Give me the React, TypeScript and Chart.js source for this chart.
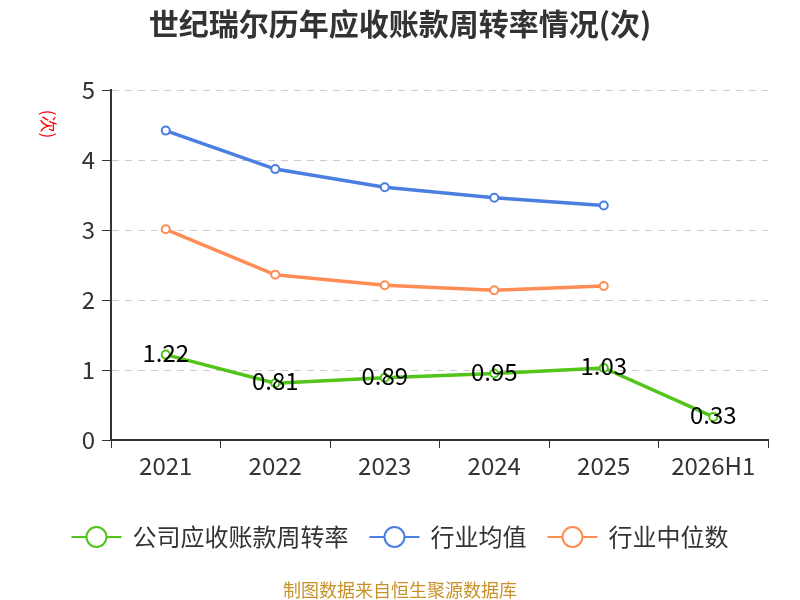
import React, { useEffect, useRef } from 'react'
import { Chart, registerables } from 'chart.js'

Chart.register(...registerables)

const FONT = '"Noto Sans CJK SC", "Noto Sans", sans-serif'

const TITLE = '世纪瑞尔历年应收账款周转率情况(次)'
const UNIT = '(次)'
const SOURCE = '制图数据来自恒生聚源数据库'

const CATEGORIES = ['2021', '2022', '2023', '2024', '2025', '2026H1']
const COMPANY = [1.22, 0.81, 0.89, 0.95, 1.03, 0.33]
const INDUSTRY_AVG = [4.42, 3.87, 3.61, 3.46, 3.35, null]
const INDUSTRY_MEDIAN = [3.01, 2.36, 2.21, 2.14, 2.2, null]
const Y_TICKS = [0, 1, 2, 3, 4, 5]

const SERIES_NAMES = ['公司应收账款周转率', '行业均值', '行业中位数']
const COLORS = ['#52c41a', '#4a7fe1', '#ff8c55']

const PAD_LEFT = 20

// title, unit label, legend, source note and value labels
const decorPlugin = {
  id: 'decor',
  afterDatasetsDraw(chart: Chart) {
    const { ctx } = chart
    const meta = chart.getDatasetMeta(0)
    ctx.save()
    ctx.font = `24px ${FONT}`
    ctx.fillStyle = '#000'
    ctx.textAlign = 'center'
    ctx.textBaseline = 'middle'
    meta.data.forEach((pt, i) => {
      const v = COMPANY[i]
      if (v == null) return
      ctx.fillText(v.toFixed(2), pt.x, pt.y - 2)
    })
    ctx.restore()
  },
  afterDraw(chart: Chart) {
    const { ctx } = chart
    const w = chart.width
    ctx.save()

    ctx.fillStyle = '#333'
    ctx.font = `bold 30px ${FONT}`
    ctx.textAlign = 'center'
    ctx.textBaseline = 'middle'
    ctx.fillText(TITLE, w / 2, 24)

    ctx.save()
    ctx.translate(48, 124)
    ctx.rotate(Math.PI / 2)
    ctx.fillStyle = '#f00'
    ctx.font = `17px ${FONT}`
    ctx.fillText(UNIT, 0, 0)
    ctx.restore()

    // legend
    ctx.font = `24px ${FONT}`
    const symW = 50
    const gapText = 11
    const gapItem = 21
    const widths = SERIES_NAMES.map((n) => ctx.measureText(n).width)
    const total = widths.reduce((a, b) => a + b, 0) + SERIES_NAMES.length * (symW + gapText) + gapItem * (SERIES_NAMES.length - 1)
    let x = (w - total) / 2
    const ly = 537
    SERIES_NAMES.forEach((name, i) => {
      ctx.strokeStyle = COLORS[i]
      ctx.lineWidth = 2
      ctx.beginPath()
      ctx.moveTo(x, ly)
      ctx.lineTo(x + symW, ly)
      ctx.stroke()
      ctx.beginPath()
      ctx.arc(x + symW / 2, ly, 10, 0, Math.PI * 2)
      ctx.fillStyle = '#fff'
      ctx.fill()
      ctx.stroke()
      ctx.fillStyle = '#333'
      ctx.textAlign = 'left'
      ctx.fillText(name, x + symW + gapText, ly)
      x += symW + gapText + widths[i] + gapItem
    })

    ctx.fillStyle = '#c8922a'
    ctx.font = `18px ${FONT}`
    ctx.textAlign = 'center'
    ctx.fillText(SOURCE, w / 2, 590)
    ctx.restore()
  },
}

function lineSet(label: string, data: (number | null)[], color: string) {
  return {
    label,
    data,
    borderColor: color,
    backgroundColor: color,
    borderWidth: 3.5,
    pointRadius: 4,
    pointHoverRadius: 4,
    pointBorderWidth: 2,
    pointBackgroundColor: '#fff',
    pointBorderColor: color,
    tension: 0,
  }
}

export default function App() {
  const canvasRef = useRef<HTMLCanvasElement>(null)

  useEffect(() => {
    if (!canvasRef.current) return
    const chart = new Chart(canvasRef.current, {
      type: 'line',
      data: {
        labels: CATEGORIES,
        datasets: [
          lineSet(SERIES_NAMES[0], COMPANY, COLORS[0]),
          lineSet(SERIES_NAMES[1], INDUSTRY_AVG, COLORS[1]),
          lineSet(SERIES_NAMES[2], INDUSTRY_MEDIAN, COLORS[2]),
        ],
      },
      options: {
        responsive: false,
        animation: false,
        layout: { padding: { top: 90, left: PAD_LEFT, right: 32, bottom: 100 } },
        plugins: {
          legend: { display: false },
          title: { display: false },
          tooltip: { enabled: false },
        },
        scales: {
          x: {
            offset: true,
            ticks: { color: '#333', font: { family: FONT, size: 24 }, padding: 3 },
            grid: { offset: true, drawOnChartArea: false, tickColor: '#333', tickLength: 8 },
            border: { color: '#333', width: 2 },
            afterFit: (s: any) => { s.height = 60 },
          },
          y: {
            min: 0,
            max: 5,
            afterBuildTicks: (s: any) => { s.ticks = Y_TICKS.map((v) => ({ value: v })) },
            ticks: { color: '#333', font: { family: FONT, size: 24 }, padding: 7 },
            grid: { color: '#ccc', lineWidth: 1, tickColor: '#333', tickLength: 9 },
            border: { color: '#333', width: 2, dash: [7, 6] },
            afterFit: (s: any) => { s.width = 111 - PAD_LEFT },
          },
        },
      },
      plugins: [decorPlugin],
    })
    return () => chart.destroy()
  }, [])

  return (
    <div style={{ position: 'fixed', left: 0, top: 0, width: 800, height: 600, background: '#fff' }}>
      <canvas ref={canvasRef} width={800} height={600} />
    </div>
  )
}
